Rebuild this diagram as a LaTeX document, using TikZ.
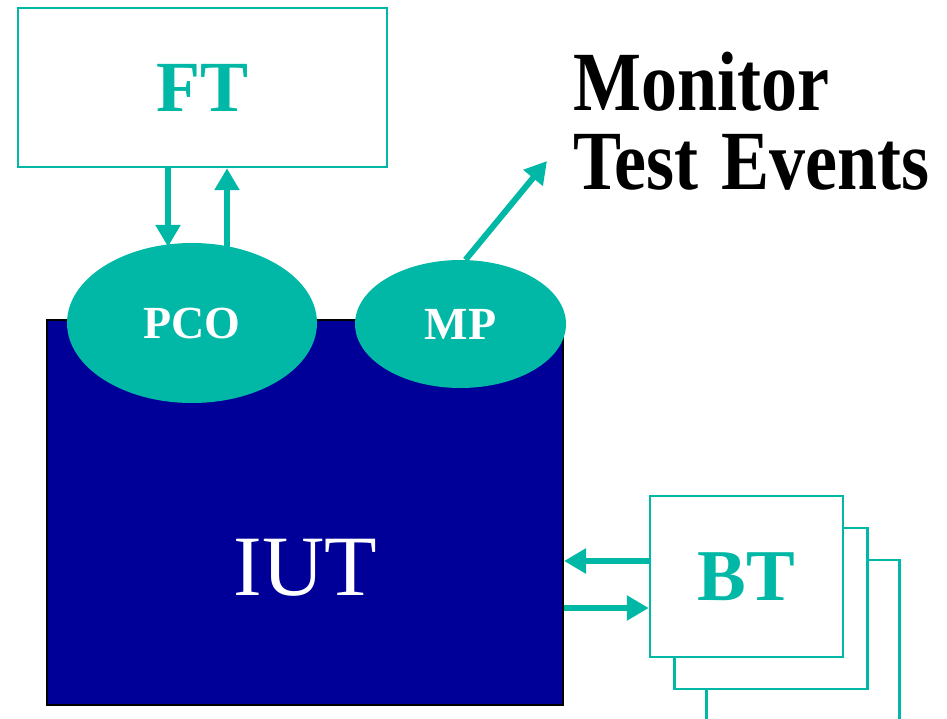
\documentclass[tikz,border=0pt]{standalone}
\usepackage{fontspec}
\setmainfont{Liberation Serif}
\usepackage{xcolor}
\usepackage{tikz}
\usetikzlibrary{positioning,calc,arrows.meta,shapes.geometric}
\definecolor{teal}{HTML}{00B8A5}
\definecolor{iutblue}{HTML}{000099}

\begin{document}
\begin{tikzpicture}[x=1pt,y=-1pt,
  tester/.style={draw=teal, line width=2.5pt, fill=white, rectangle, minimum width=369pt, minimum height=159pt, inner sep=0pt, font=\fontsize{72}{72}\selectfont\bfseries, text=teal},
  btbox/.style={draw=teal, line width=2.5pt, fill=white, rectangle, minimum width=193pt, minimum height=161pt, inner sep=0pt},
  point/.style={ellipse, fill=teal, inner sep=0pt, text=white, font=\fontsize{46}{46}\selectfont\bfseries},
  flow/.style={teal, line width=6pt, -{Triangle[length=22pt,width=24pt]}}]
\useasboundingbox (0,0) rectangle (947,719);
% Lower tester (stacked copies behind)
\foreach \n/\x/\y in {bt3/803/640.5, bt2/771/608.5} {
  \node[btbox] (\n) at (\x,\y) {};
}
\node[btbox, font=\fontsize{73}{73}\selectfont\bfseries, text=teal] (bt) at (746.5,576.5) {BT};
% Implementation under test
\node[rectangle, draw=black, line width=2pt, fill=iutblue, minimum width=516pt, minimum height=385pt, inner sep=0pt] (iut) at (305,512.5) {};
\node[text=white, font=\fontsize{86}{86}\selectfont, inner sep=0pt] (iutlabel) at (305,568) {IUT};
% Upper tester
\node[tester] (ft) at (202.5,87.5) {FT};
% Points of control and observation
\node[point, minimum width=250pt, minimum height=160pt] (pco) at (192,323) {PCO};
\node[point, minimum width=211pt, minimum height=128pt] (mp) at (460.5,324) {MP};
% Arrows FT <-> PCO
\path ([xshift=-24pt,yshift=-4pt]pco.north) coordinate (pcoin)
      ([xshift=35pt,yshift=-4pt]pco.north) coordinate (pcoout);
\draw[flow] (pcoin |- ft.south) -- (pcoin);
\draw[flow] (pcoout) -- (pcoout |- ft.south);
% Arrows IUT <-> BT
\path ([yshift=15.5pt]bt.west) coordinate (btin)
      ([yshift=-31.5pt]bt.west) coordinate (btout);
\draw[flow] (btin) -- (btin -| iut.east);
\draw[flow] (btout -| iut.east) -- (btout);
% Monitor
\coordinate (montip) at (547,161);
\draw[flow] ([xshift=5pt]mp.north) -- (montip);
\node[anchor=base west, inner sep=0pt, font=\fontsize{72}{66}\selectfont\bfseries] (mon) at (573,111)
  {\scalebox{1}[1.17]{\begin{tabular}[t]{@{}l@{}}Monitor\\Test \kern5pt Events\end{tabular}}};
\end{tikzpicture}
\end{document}
